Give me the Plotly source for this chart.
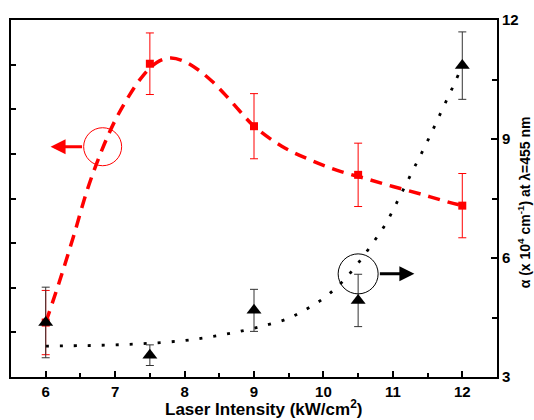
import plotly.graph_objects as go

# Measured points
intensity = [6.0, 7.5, 9.0, 10.5, 12.0]

left_vals = [1.22, 7.02, 5.62, 4.53, 3.84]
left_err = [0.72, 0.69, 0.73, 0.71, 0.72]

alpha_vals = [4.375, 3.55, 4.68, 4.93, 10.85]
alpha_err = [0.89, 0.26, 0.53, 0.66, 0.85]

# Guide-to-the-eye curves
left_fit_x = [6.0, 6.2, 6.4, 6.6, 6.8, 7.0, 7.2, 7.4, 7.6, 7.8, 8.0, 8.2, 8.4, 8.6,
              8.8, 9.0, 9.4, 9.8, 10.2, 10.6, 11.0, 11.4, 11.8, 12.0]
left_fit_y = [1.22, 2.15, 3.15, 4.2, 5.05, 5.75, 6.3, 6.75, 7.05, 7.15, 7.07, 6.88,
              6.62, 6.3, 5.95, 5.62, 5.17, 4.87, 4.63, 4.45, 4.27, 4.1, 3.92, 3.84]

alpha_fit_x = [6.0, 6.5, 7.0, 7.5, 8.0, 8.4, 8.8, 9.2, 9.5, 9.7, 9.9, 10.1, 10.3,
               10.5, 10.7, 10.9, 11.1, 11.3, 11.5, 11.7, 11.9, 12.0]
alpha_fit_y = [3.78, 3.79, 3.81, 3.85, 3.92, 4.02, 4.15, 4.32, 4.48, 4.66, 4.86,
               5.12, 5.45, 5.87, 6.35, 6.87, 7.55, 8.25, 8.95, 9.7, 10.45, 10.85]

x_ticks = [6, 7, 8, 9, 10, 11, 12]
alpha_ticks = [3, 6, 9, 12]

RED = "#ff0000"
FONT = "Liberation Sans"

fig = go.Figure()

fig.add_trace(go.Scatter(
    x=alpha_fit_x, y=alpha_fit_y, yaxis="y2", mode="lines",
    line=dict(color="black", width=2.8, dash="3px,11px", shape="spline"),
    showlegend=False, hoverinfo="skip"))

fig.add_trace(go.Scatter(
    x=left_fit_x, y=left_fit_y, mode="lines",
    line=dict(color=RED, width=3.5, dash="12px,8px", shape="spline"),
    showlegend=False, hoverinfo="skip"))

fig.add_trace(go.Scatter(
    x=intensity, y=left_vals, mode="markers",
    marker=dict(symbol="square", size=8, color=RED),
    error_y=dict(type="data", array=left_err, color=RED, thickness=1, width=4),
    showlegend=False))

fig.add_trace(go.Scatter(
    x=intensity, y=alpha_vals, yaxis="y2", mode="markers",
    marker=dict(symbol="triangle-up", size=13, color="black"),
    error_y=dict(type="data", array=alpha_err, color="#333333", thickness=1, width=4),
    showlegend=False))

# Circles marking which curve belongs to which axis
fig.add_shape(type="circle", xref="x", yref="y", xsizemode="pixel", ysizemode="pixel",
              xanchor=6.82, yanchor=5.16, x0=-19, x1=19, y0=-19, y1=19,
              line=dict(color=RED, width=1))
fig.add_shape(type="circle", xref="x", yref="y2", xsizemode="pixel", ysizemode="pixel",
              xanchor=10.5, yanchor=5.6, x0=-20, x1=20, y0=-20, y1=20,
              line=dict(color="black", width=1))

fig.add_annotation(x=6.07, y=5.16, xref="x", yref="y", ax=33, ay=0, text="",
                   showarrow=True, arrowhead=2, arrowsize=1, arrowwidth=3,
                   arrowcolor=RED)
fig.add_annotation(x=11.31, y=5.6, xref="x", yref="y2", ax=-36, ay=0, text="",
                   showarrow=True, arrowhead=2, arrowsize=1, arrowwidth=3,
                   arrowcolor="black")

# Axis titles
fig.add_annotation(text="Laser Intensity (kW/cm<sup>2</sup>)", xref="paper", yref="paper",
                   x=0.52, y=-0.086, xanchor="center", yanchor="middle", showarrow=False,
                   font=dict(family=FONT, size=17, color="black", weight="bold"))
fig.add_annotation(text="α (x 10<sup>4</sup> cm<sup>-1</sup>) at λ=455 nm", xref="paper",
                   yref="paper", x=1.056, y=0.49, xanchor="center", yanchor="middle",
                   textangle=-90, showarrow=False,
                   font=dict(family=FONT, size=14, color="black", weight="bold"))

fig.update_layout(
    width=534, height=420,
    margin=dict(l=11, r=37, t=17, b=43),
    paper_bgcolor="white", plot_bgcolor="white",
    font=dict(family=FONT, color="black"),
    xaxis=dict(range=[5.5, 12.5], tickvals=x_ticks, ticks="inside", ticklen=6,
               tickwidth=1.5, tickcolor="black",
               minor=dict(dtick=0.5, ticks="inside", ticklen=4, tickwidth=1.5,
                          tickcolor="black"),
               showline=True, linecolor="black", linewidth=2, mirror=True,
               showgrid=False, zeroline=False,
               tickfont=dict(family=FONT, size=15, color="black", weight="bold")),
    yaxis=dict(range=[0, 8], dtick=1, ticks="inside", ticklen=5, tickwidth=1.5,
               tickcolor="black", showticklabels=False,
               showline=True, linecolor="black", linewidth=2,
               showgrid=False, zeroline=False),
    yaxis2=dict(range=[3, 12], tickvals=alpha_ticks, overlaying="y", side="right",
                ticks="inside", ticklen=6, tickwidth=1.5, tickcolor="black",
                minor=dict(dtick=1.5, ticks="inside", ticklen=5, tickwidth=1.5,
                           tickcolor="black"),
                showline=True, linecolor="black", linewidth=2,
                showgrid=False, zeroline=False,
                tickfont=dict(family=FONT, size=15, color="black", weight="bold")),
)

fig.write_html("out.html")
